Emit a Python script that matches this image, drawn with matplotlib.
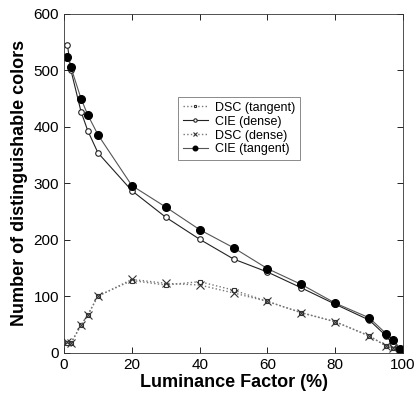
import matplotlib
matplotlib.use("Agg")
import matplotlib.pyplot as plt

plt.rcParams['font.family'] = ['Liberation Sans', 'DejaVu Sans']

lum = [1, 2, 5, 7, 10, 20, 30, 40, 50, 60, 70, 80, 90, 95, 97, 99]
dsc_tangent = [18, 17, 49, 67, 101, 128, 120, 126, 111, 91, 71, 55, 30, 12, 8, 7]
cie_dense = [545, 501, 427, 393, 354, 287, 240, 201, 166, 143, 115, 86, 58, 30, 15, 5]
dsc_dense = [20, 17, 49, 67, 100, 130, 123, 120, 106, 91, 71, 55, 30, 12, 8, 7]
cie_tangent = [524, 506, 450, 421, 386, 296, 258, 218, 186, 149, 121, 88, 62, 34, 23, 7]

fig = plt.figure(figsize=(4.16, 3.96), dpi=100)
ax = fig.add_axes([0.154, 0.109, 0.815, 0.856])

ax.plot(lum, dsc_tangent, linestyle=':', color='#777777', lw=1.0,
        marker='s', markersize=3.5, markerfacecolor='white', markeredgecolor='#333333',
        markeredgewidth=0.8, label='DSC (tangent)')
ax.plot(lum, cie_dense, linestyle='-', color='#222222', lw=0.8,
        marker='o', markersize=4, markerfacecolor='white', markeredgecolor='#222222',
        markeredgewidth=0.8, label='CIE (dense)')
ax.plot(lum, dsc_dense, linestyle=':', color='#777777', lw=1.0,
        marker='x', markersize=5.5, markeredgecolor='#333333', markeredgewidth=0.8,
        label='DSC (dense)')
ax.plot(lum, cie_tangent, linestyle='-', color='#555555', lw=0.8,
        marker='o', markersize=5.5, markerfacecolor='black', markeredgecolor='black',
        label='CIE (tangent)')

ax.set_xlim(0, 100)
ax.set_ylim(0, 600)
ax.set_xticks([0, 20, 40, 60, 80, 100])
ax.set_yticks([0, 100, 200, 300, 400, 500, 600])
ax.tick_params(direction='in', top=True, right=True, labelsize=11, length=4, width=0.6)
for s in ax.spines.values():
    s.set_linewidth(0.6)
    s.set_color('#333333')

ax.set_xlabel('Luminance Factor (%)', fontsize=13, fontweight='bold', labelpad=2)
ax.set_ylabel('Number of distinguishable colors', fontsize=13, fontweight='bold', labelpad=4)

leg = ax.legend(loc='upper left', bbox_to_anchor=(0.318, 0.772), fontsize=9,
                frameon=True, fancybox=False, edgecolor='#555555', handlelength=2.0,
                borderpad=0.35, labelspacing=0.15, handletextpad=0.6, markerscale=0.6)
leg.get_frame().set_linewidth(0.6)

fig.savefig('out.png', dpi=100)
